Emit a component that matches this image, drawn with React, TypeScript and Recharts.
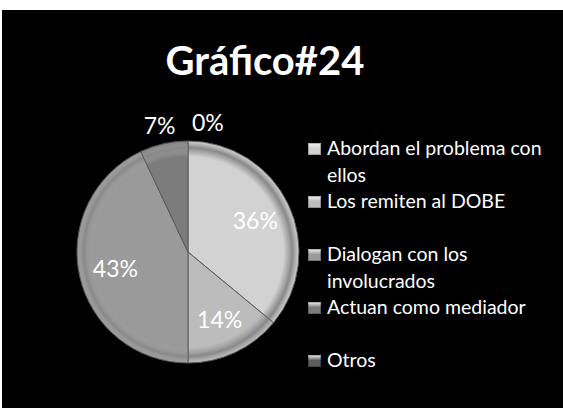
import React from 'react';
import { PieChart, Pie, Cell } from 'recharts';

// Chart data
const categories = [
  'Abordan el problema con ellos',
  'Los remiten al DOBE',
  'Dialogan con los involucrados',
  'Actuan como mediador',
  'Otros'
];
const percents = [36, 14, 43, 7, 0];
const chartTitle = 'Gráfico#24';

const COLORS = ['#d2d2d2', '#bcbcbc', '#9a9a9a', '#7c7c7c', '#5c5c5c'];
const FONT = 'Lato, "Open Sans", sans-serif';

const data = categories.map((name, i) => ({ name, value: percents[i] }));

const CX = 186;
const CY = 242;
const R = 111;

const RADIAN = Math.PI / 180;

const renderLabel = (props: any) => {
  const { cx, cy, midAngle, outerRadius, value } = props;
  const outside = value < 10;
  const r = outside ? outerRadius + 19 : outerRadius * 0.67;
  const x = cx + r * Math.cos(-midAngle * RADIAN);
  const y = cy + r * Math.sin(-midAngle * RADIAN);
  // the empty slice sits on the top: push its label to the right so it clears the 7%
  const anchor = outside && x > cx - 1 ? 'start' : 'middle';
  return (
    <text
      x={anchor === 'start' ? x + 4 : x}
      y={y}
      fill="#ffffff"
      textAnchor={anchor}
      dominantBaseline="central"
      fontFamily={FONT}
      fontSize={23}
    >
      {`${value}%`}
    </text>
  );
};

// legend drawn by hand so the order stays the same as the data
const LegendBox = () => (
  <div
    style={{
      position: 'absolute',
      left: 306,
      top: 125,
      width: 255,
      fontFamily: FONT,
      fontSize: 19.5,
      color: '#ffffff'
    }}
  >
    {categories.map((name, i) => (
      <div key={`leg-${i}`} style={{ display: 'flex', height: 53, lineHeight: '26.5px' }}>
        <div
          style={{
            width: 13,
            height: 12,
            marginTop: 8,
            marginRight: 6,
            flexShrink: 0,
            background: `linear-gradient(180deg, #f4f4f4 0%, ${COLORS[i]} 45%, ${COLORS[i]} 100%)`,
            boxShadow: 'inset 0 0 0 1px rgba(0,0,0,0.25)'
          }}
        />
        <div style={{ width: 230 }}>{name}</div>
      </div>
    ))}
  </div>
);

export default function App() {
  return (
    <div
      style={{
        position: 'absolute',
        left: 0,
        top: 0,
        width: 563,
        height: 408,
        background: '#ffffff',
        overflow: 'hidden'
      }}
    >
      <div
        style={{
          position: 'absolute',
          left: 2,
          top: 10,
          width: 561,
          height: 398,
          background: '#000000'
        }}
      >
        <div
          style={{
            position: 'absolute',
            left: 0,
            top: 26,
            width: 526,
            textAlign: 'center',
            fontFamily: FONT,
            fontWeight: 'bold',
            fontSize: 40,
            lineHeight: '48px',
            color: '#ffffff'
          }}
        >
          {chartTitle}
        </div>
        <PieChart width={561} height={398} margin={{ top: 0, right: 0, bottom: 0, left: 0 }}>
          <defs>
            {COLORS.map((c, i) => (
              <radialGradient
                key={`g-${i}`}
                id={`slice-${i}`}
                gradientUnits="userSpaceOnUse"
                cx={CX}
                cy={CY}
                r={R}
              >
                <stop offset="0%" stopColor={c} />
                <stop offset="86%" stopColor={c} />
                <stop offset="94%" stopColor="#e4e4e4" stopOpacity={0.6} />
                <stop offset="100%" stopColor={c} />
              </radialGradient>
            ))}
          </defs>
          <Pie
            data={data}
            dataKey="value"
            nameKey="name"
            cx={CX}
            cy={CY}
            outerRadius={R}
            startAngle={90}
            endAngle={-270}
            stroke="#5a5a5a"
            strokeWidth={1}
            label={renderLabel}
            labelLine={false}
            isAnimationActive={false}
          >
            {data.map((entry, index) => (
              <Cell key={`cell-${index}`} fill={`url(#slice-${index})`} />
            ))}
          </Pie>
        </PieChart>
        <LegendBox />
      </div>
    </div>
  );
}
